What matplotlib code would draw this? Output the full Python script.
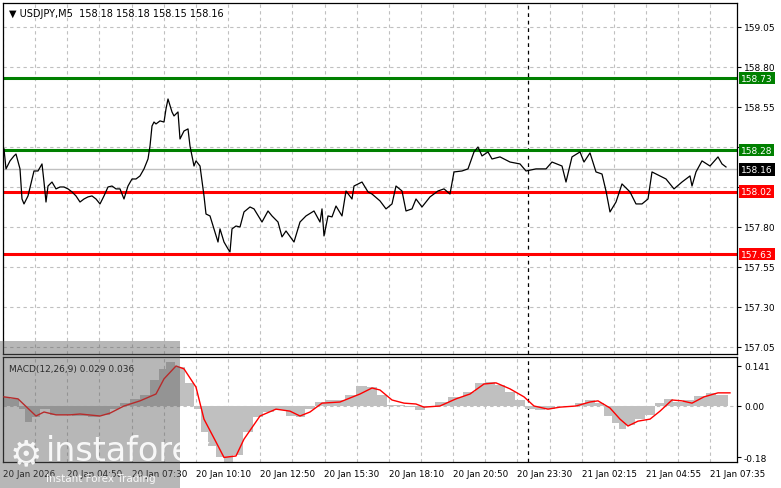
import matplotlib
matplotlib.use("Agg")
import matplotlib.pyplot as plt
from matplotlib.patches import Rectangle
import numpy as np

price_bars = [0,1,3,5,6,8,9,10,12,14,
              15,17,19,20,21,22,24,26,28,30,
              32,34,36,38,40,42,44,46,48,50,
              52,54,56,58,60,62,64,66,68,70,
              72,73,74,75,76,78,80,81,82,84,
              85,87,88,90,92,93,95,96,98,100,
              101,103,105,107,108,110,112,113,114,116,
              118,120,123,125,129,132,134,137,139,141,
              145,148,151,155,158,159,160,162,164,166,
              169,171,174,175,179,182,184,188,191,194,
              196,199,201,204,206,209,213,217,220,223,
              225,229,232,235,237,239,242,244,248,253,
              258,261,266,271,274,279,281,284,288,290,
              293,296,299,301,303,306,309,313,316,319,
              322,324,328,331,335,339,343,344,346,349,
              353,357,359,361]
prices = [158.288,158.163,158.213,158.244,158.256,158.163,157.975,157.944,157.994,158.100,
          158.150,158.150,158.194,158.081,157.956,158.056,158.081,158.038,158.050,158.050,
          158.038,158.019,157.994,157.956,157.975,157.988,157.994,157.975,157.944,157.994,
          158.050,158.056,158.038,158.038,157.975,158.056,158.100,158.100,158.119,158.163,
          158.225,158.306,158.431,158.456,158.444,158.463,158.456,158.538,158.600,158.519,
          158.494,158.519,158.350,158.400,158.413,158.306,158.181,158.213,158.181,157.994,
          157.881,157.869,157.788,157.706,157.788,157.706,157.663,157.644,157.788,157.806,
          157.800,157.894,157.925,157.913,157.831,157.900,157.869,157.831,157.738,157.775,
          157.706,157.831,157.869,157.900,157.831,157.913,157.744,157.869,157.863,157.931,
          157.869,158.025,157.975,158.056,158.081,158.019,158.006,157.963,157.913,157.944,
          158.056,158.025,157.900,157.913,157.975,157.925,157.988,158.025,158.038,158.006,
          158.144,158.150,158.163,158.269,158.300,158.244,158.269,158.225,158.238,158.206,
          158.194,158.150,158.163,158.163,158.206,158.181,158.081,158.238,158.269,158.206,
          158.263,158.144,158.131,158.025,157.894,157.956,158.069,158.019,157.944,157.944,
          157.975,158.144,158.119,158.100,158.038,158.081,158.119,158.056,158.144,158.213,
          158.181,158.238,158.194,158.175]

sig_bars = [0,7,16,20,26,33,38,48,53,60,68,76,80,86,90,96,100,106,110,116,
            120,128,136,143,148,153,159,168,178,184,188,194,200,206,210,218,226,233,240,246,
            253,260,265,272,278,286,293,297,303,308,312,317,323,328,334,339,344,350,357,363]
signal = [0.032,0.025,-0.035,-0.021,-0.031,-0.031,-0.028,-0.035,-0.025,0.0,
          0.018,0.042,0.095,0.14,0.13,0.066,-0.046,-0.126,-0.18,-0.175,
          -0.116,-0.035,-0.011,-0.018,-0.035,-0.021,0.01,0.014,0.042,0.063,
          0.056,0.021,0.01,0.007,-0.004,0.0,0.025,0.042,0.077,0.081,
          0.06,0.032,0.0,-0.011,-0.004,0.0,0.014,0.018,-0.007,-0.046,
          -0.07,-0.053,-0.046,-0.018,0.021,0.018,0.01,0.032,0.046,0.046]

macd_bars = [0,6,9,12,16,20,26,30,38,46,50,56,60,66,70,76,79,83,88,93,
             97,100,104,108,112,117,122,127,132,138,144,148,153,158,163,168,173,179,184,189,
             194,198,203,208,213,218,226,233,238,243,248,253,258,263,268,273,278,283,288,293,
             298,302,306,309,313,318,323,328,332,337,342,348,354,358,362]
macd = [0.03,0.025,-0.01,-0.056,-0.04,-0.01,-0.03,-0.03,-0.035,-0.04,
        -0.03,-0.01,0.01,0.025,0.04,0.09,0.13,0.155,0.135,0.08,
        -0.01,-0.09,-0.14,-0.18,-0.196,-0.17,-0.09,-0.04,-0.02,-0.015,
        -0.035,-0.04,-0.01,0.015,0.02,0.02,0.04,0.07,0.065,0.04,
        0.005,0.005,-0.005,-0.015,-0.005,0.015,0.03,0.05,0.08,0.085,
        0.075,0.05,0.02,-0.01,-0.015,-0.01,0.0,0.0,0.01,0.02,
        0.01,-0.035,-0.06,-0.08,-0.065,-0.045,-0.03,0.01,0.025,0.015,
        0.02,0.035,0.045,0.04,0.04]

green_levels = [158.73, 158.28]
red_levels = [158.02, 157.63]
current_price = 158.16
price_ticks = [159.05,158.80,158.55,158.30,158.05,157.80,157.55,157.30,157.05]
price_tick_labels = ["159.05","158.80","158.55","","","157.80","157.55","157.30","157.05"]
time_labels = ["20 Jan 2026","20 Jan 04:50","20 Jan 07:30","20 Jan 10:10","20 Jan 12:50",
               "20 Jan 15:30","20 Jan 18:10","20 Jan 20:50","20 Jan 23:30",
               "21 Jan 02:15","21 Jan 04:55","21 Jan 07:35"]
sep_bar = 262

W, H = 781, 489
fig = plt.figure(figsize=(W/100, H/100), dpi=100)
plt.rcParams['font.family'] = ['DejaVu Sans']
def ax_rect(l, t, r, b):
    return [l/W, 1-b/H, (r-l)/W, (b-t)/H]
ax = fig.add_axes(ax_rect(3, 4, 737, 355))
ax2 = fig.add_axes(ax_rect(3, 358, 737, 463))
xmin, xmax = -0.5, 366.5
tick_step = 32.15
for a in (ax, ax2):
    a.set_xlim(xmin, xmax)
    for k in range(24):
        a.axvline(-0.5 + tick_step/2*k, color='#c0c0c0', ls=(0,(3,3)), lw=0.8, zorder=0)
    a.axvline(sep_bar, color='black', ls=(0,(3,3)), lw=0.9, zorder=1)
    a.set_xticks([])
    a.yaxis.tick_right()
    a.tick_params(axis='y', labelsize=6.5, length=3, pad=2)
    for s in a.spines.values():
        s.set_color('black'); s.set_linewidth(0.9)

ax.set_ylim(157.006, 159.2)
ax.set_yticks(price_ticks)
ax.set_yticklabels(price_tick_labels)
for p in price_ticks:
    ax.axhline(p, color='#c0c0c0', ls=(0,(3,3)), lw=0.8, zorder=0)
ax.axhline(current_price, color='#c0c0c0', lw=1.0, zorder=1)
for lv in green_levels:
    ax.axhline(lv, color='#008000', lw=2.2, zorder=2)
for lv in red_levels:
    ax.axhline(lv, color='#ff0000', lw=2.2, zorder=2)
ax.plot(price_bars, prices, color='black', lw=0.9, zorder=3)

def box(a, y, txt, bg):
    a.annotate(txt, xy=(1, y), xycoords=('axes fraction', 'data'), xytext=(3, 0),
               textcoords='offset points', va='center', ha='left', fontsize=6.5, color='white',
               bbox=dict(boxstyle='square,pad=0.2', fc=bg, ec='none'), annotation_clip=False)
for lv in green_levels:
    box(ax, lv, f"{lv:.2f}", '#008000')
box(ax, current_price, f"{current_price:.2f}", 'black')
for lv in red_levels:
    box(ax, lv, f"{lv:.2f}", '#ff0000')
ax.text(0.008, 0.985, "\u25bc USDJPY,M5  158.18 158.18 158.15 158.16", transform=ax.transAxes,
        fontsize=7, va='top', ha='left', color='black')

ax2.set_ylim(-0.196, 0.1715)
ax2.set_yticks([0.141, 0.0, -0.18])
ax2.set_yticklabels(["0.141", "0.00", "-0.18"])
ax2.axhline(0, color='#c0c0c0', ls=(0,(3,3)), lw=0.8, zorder=0)
ax2.fill_between(macd_bars, macd, 0, step='mid', color='#c0c0c0', lw=0, zorder=2)
ax2.plot(sig_bars, signal, color='#ff0000', lw=1.0, zorder=3)
ax2.text(0.008, 0.93, "MACD(12,26,9) 0.029 0.036", transform=ax2.transAxes,
         fontsize=6.5, va='top', ha='left')

for k, lab in enumerate(time_labels):
    xb = -0.5 + tick_step*k
    xp = 3 + (xb - xmin)/(xmax - xmin)*734
    fig.text(xp/W, 1-475/H, lab, fontsize=6.3, ha='left', va='center')

fig.patches.append(Rectangle((0, 0), 180/W, 147/H, transform=fig.transFigure,
                             fc='#606060', alpha=0.45, ec='none', zorder=10))
fig.text(10/W, 1-455/H, "\u2699", fontsize=26, color='white', alpha=0.9, va='center', zorder=11)
fig.text(46/W, 1-452/H, "instaforex", fontsize=24, color='white', alpha=0.9, va='center', zorder=11)
fig.text(46/W, 1-479/H, "Instant Forex Trading", fontsize=7.5, color='white', alpha=0.9, va='center', zorder=11)

fig.savefig("out.png", dpi=100)
